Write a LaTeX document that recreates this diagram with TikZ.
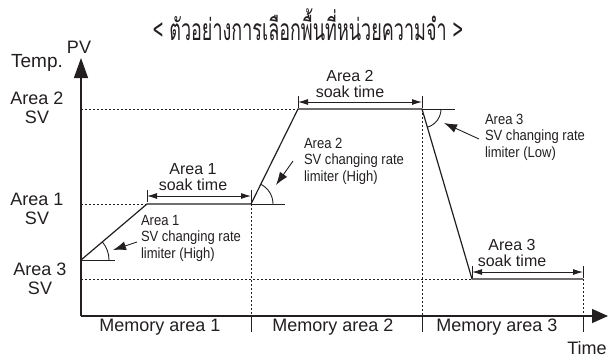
\documentclass[tikz,border=0pt]{standalone}
\usepackage{fontspec}
\setmainfont{Liberation Sans}
\newfontfamily\thaifont[Script=Thai,FakeStretch=0.6]{Loma}
\newfontfamily\narrowfont[FakeStretch=0.88]{Liberation Sans}
\usetikzlibrary{arrows.meta}
\definecolor{ink}{RGB}{35,31,32}
\begin{document}
\begin{tikzpicture}[x=1pt,y=1pt,
  every node/.style={inner sep=0pt,outer sep=0pt,text=ink},
  axisline/.style={line width=1.3pt,draw=ink},
  profile/.style={line width=1.2pt,draw=ink},
  refline/.style={line width=0.9pt,draw=ink},
  guide/.style={line width=0.8pt,draw=ink,dash pattern=on 2pt off 2pt},
  soakarrow/.style={line width=0.9pt,draw=ink,{Latex[length=10pt,width=6pt]}-{Latex[length=10pt,width=6pt]}},
  tickmark/.style={line width=0.9pt,draw=ink},
  pointer/.style={line width=0.9pt,draw=ink,-{Latex[length=13pt,width=9pt]}},
  biglab/.style={font=\fontsize{18}{18.5}\selectfont,align=center},
  soaklab/.style={font=\fontsize{16}{16.5}\selectfont,align=center},
  limlab/.style={font=\narrowfont\fontsize{14.8}{16.5}\selectfont,align=left,anchor=west}
]
\useasboundingbox (0,0) rectangle (609,-360);

% key points
\coordinate (O) at (81,-316);
\coordinate (ytop) at (81,-58);
\coordinate (xend) at (608,-316);
\coordinate (p0) at (81,-260);
\coordinate (p1) at (147,-204);
\coordinate (p2) at (251,-204);
\coordinate (p3) at (298,-109);
\coordinate (p4) at (422,-109);
\coordinate (p5) at (472,-279);
\coordinate (p6) at (583,-279);

% title
\node (title) at (308,-25) {\thaifont\fontsize{30}{30}\selectfont < ตัวอย่างการเลือกพื้นที่หน่วยความจำ >};

% axes
\draw[axisline,-{Triangle[length=20pt,width=14pt]}] (O) -- (ytop);
\draw[axisline,-{Triangle[length=16pt,width=14pt]}] (O) -- (xend);
\node (pv) at (79,-47) {\fontsize{18}{18}\selectfont PV};
\node (temp) at (37,-63) {\fontsize{19}{19}\selectfont Temp.};
\node (time) at (587,-348) {\fontsize{18}{18}\selectfont Time};

% y labels
\node[biglab] (a2sv) at (37,-108) {Area 2\\SV};
\node[biglab] (a1sv) at (37,-209) {Area 1\\SV};
\node[biglab] (a3sv) at (40,-279) {Area 3\\SV};

% guide lines
\coordinate (g2) at (81,-109);
\coordinate (g1) at (81,-204);
\coordinate (g3) at (81,-279);
\draw[guide] (g2) -- (p3);
\draw[guide] (g1) -- (p1);
\draw[guide] (g3) -- (p5);
\coordinate (d1) at (251,-316);
\coordinate (d2) at (422,-316);
\coordinate (d3) at (583,-316);
\draw[guide] (p2) -- (d1);
\draw[guide] (p4) -- (d2);
\draw[guide] (p6) -- (d3);

% memory dividers
\coordinate (m1) at (251,-332);
\coordinate (m2) at (422,-332);
\coordinate (m3) at (583,-332);
\draw[tickmark] (d1) -- (m1);
\draw[tickmark] (d2) -- (m2);
\draw[tickmark] (d3) -- (m3);
\node[biglab] (mem1) at (160,-327) {Memory area 1};
\node[biglab] (mem2) at (333,-327) {Memory area 2};
\node[biglab] (mem3) at (497,-327) {Memory area 3};

% profile
\draw[profile] (p0) -- (p1) -- (p2) -- (p3) -- (p4) -- (p5) -- (p6);

% reference lines and angle arcs
\coordinate (r1) at (115,-260);
\coordinate (r2) at (285,-204);
\coordinate (r3) at (455,-109);
\draw[refline] (p0) -- (r1);
\draw[refline] (p2) -- (r2);
\draw[refline] (p4) -- (r3);
\draw[refline] (109,-260) arc[start angle=0,end angle=40.3,radius=28];
\draw[refline] (273,-204) arc[start angle=0,end angle=63.7,radius=22];
\draw[refline] (441,-109) arc[start angle=0,end angle=-73.5,radius=19];

% soak time arrows
\coordinate (s1a) at (147,-196);
\coordinate (s1b) at (251,-196);
\coordinate (s2a) at (298,-102);
\coordinate (s2b) at (422,-102);
\coordinate (s3a) at (472,-272);
\coordinate (s3b) at (583,-272);
\draw[soakarrow] (s1a) -- (s1b);
\draw[soakarrow] (s2a) -- (s2b);
\draw[soakarrow] (s3a) -- (s3b);
\draw[tickmark] ([yshift=6pt]s1a) -- ([yshift=-6pt]s1a);
\draw[tickmark] ([yshift=6pt]s1b) -- ([yshift=-6pt]s1b);
\draw[tickmark] ([yshift=6pt]s2a) -- ([yshift=-6pt]s2a);
\draw[tickmark] ([yshift=6pt]s2b) -- ([yshift=-6pt]s2b);
\draw[tickmark] ([yshift=6pt]s3a) -- ([yshift=-6pt]s3a);
\draw[tickmark] ([yshift=6pt]s3b) -- ([yshift=-6pt]s3b);
\node[soaklab] (soak1) at (193,-177) {Area 1\\soak time};
\node[soaklab] (soak2) at (350,-84) {Area 2\\soak time};
\node[soaklab] (soak3) at (512,-253) {Area 3\\soak time};

% limiter labels and pointers
\node[limlab] (lim1) at (141,-238) {Area 1\\SV changing rate\\limiter (High)};
\node[limlab] (lim2) at (304,-161) {Area 2\\SV changing rate\\limiter (High)};
\node[limlab] (lim3) at (485,-137) {Area 3\\SV changing rate\\limiter (Low)};
\coordinate (t1) at (137,-242);
\coordinate (h1) at (113,-250);
\coordinate (t2) at (293,-161);
\coordinate (h2) at (276,-185);
\coordinate (t3) at (479,-139);
\coordinate (h3) at (444,-123);
\draw[pointer] (t1) -- (h1);
\draw[pointer] (t2) -- (h2);
\draw[pointer] (t3) -- (h3);
\end{tikzpicture}
\end{document}
